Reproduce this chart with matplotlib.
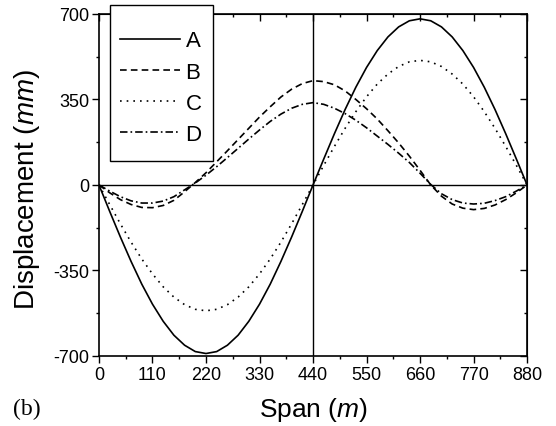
import matplotlib
matplotlib.use("Agg")
import matplotlib.pyplot as plt
from matplotlib.patches import Rectangle
from matplotlib.ticker import MultipleLocator

plt.rcParams['font.family'] = ['Liberation Sans', 'DejaVu Sans']
plt.rcParams['mathtext.fontset'] = 'custom'
plt.rcParams['mathtext.rm'] = 'Liberation Sans'
plt.rcParams['mathtext.it'] = 'Liberation Sans:italic'
plt.rcParams['axes.unicode_minus'] = False

span = [0, 22, 44, 66, 88, 110, 132, 154, 176, 198, 220, 242, 264, 286, 308, 330, 352, 374, 396, 418, 440,
        462, 484, 506, 528, 550, 572, 594, 616, 638, 660, 682, 704, 726, 748, 770, 792, 814, 836, 858, 880]

A = [0, -108, -213, -313, -406, -488, -558, -615, -656, -682, -690, -682, -656, -615, -558, -488, -406, -313, -213, -108, 0,
     106, 210, 309, 400, 481, 550, 606, 647, 672, 680, 672, 647, 606, 550, 481, 400, 309, 210, 106, 0]
B = [0, -32, -60, -80, -92, -93, -84, -63, -28, 10, 50, 95, 140, 186, 232, 278, 320, 360, 392, 415, 427,
     423, 410, 385, 350, 312, 270, 222, 172, 118, 60, 0, -46, -78, -95, -101, -96, -82, -60, -32, 0]
C = [0, -80, -159, -234, -303, -364, -417, -459, -490, -509, -515, -509, -490, -459, -417, -364, -303, -234, -159, -80, 0,
     80, 158, 232, 300, 361, 413, 454, 485, 504, 510, 504, 485, 454, 413, 361, 300, 232, 158, 80, 0]
D = [0, -25, -48, -65, -74, -74, -66, -48, -20, 8, 40, 75, 112, 150, 188, 225, 260, 290, 314, 330, 337,
     330, 314, 292, 265, 234, 200, 166, 130, 92, 48, 2, -36, -60, -74, -78, -75, -64, -48, -25, 0]

labels = ['A', 'B', 'C', 'D']
xticks = [0, 110, 220, 330, 440, 550, 660, 770, 880]
yticks = [-700, -350, 0, 350, 700]

fig = plt.figure(figsize=(5.56, 4.27), dpi=100)
ax = fig.add_axes([0.178, 0.164, 0.770, 0.801])

lw = 1.2
styles = ['-', (0, (4, 2.5)), (0, (1, 3)), (0, (4.5, 1.8, 1, 1.8))]
handles = []
for y, ls, lab in zip([A, B, C, D], styles, labels):
    h, = ax.plot(span, y, color='black', lw=lw, linestyle=ls, label=lab)
    handles.append(h)

ax.axhline(0, color='black', lw=1.0)
ax.axvline(440, color='black', lw=1.0)

ax.set_xlim(0, 880)
ax.set_ylim(-700, 700)
ax.set_xticks(xticks)
ax.set_yticks(yticks)
ax.xaxis.set_minor_locator(MultipleLocator(55))
ax.yaxis.set_minor_locator(MultipleLocator(175))
ax.tick_params(which='major', direction='out', length=5, width=1.0, labelsize=13, pad=2.5)
ax.tick_params(which='minor', direction='out', length=2.5, width=1.0)
ax.tick_params(axis='y', which='major', pad=2)
for s in ax.spines.values():
    s.set_linewidth(1.2)

top = ax.secondary_xaxis('top')
top.set_xticks(xticks)
top.xaxis.set_minor_locator(MultipleLocator(55))
top.tick_params(which='major', direction='in', length=5, width=1.0, labeltop=False)
top.tick_params(which='minor', direction='in', length=2.5, width=1.0)
right = ax.secondary_yaxis('right')
right.set_yticks(yticks)
right.yaxis.set_minor_locator(MultipleLocator(175))
right.tick_params(which='major', direction='in', length=5, width=1.0, labelright=False)
right.tick_params(which='minor', direction='in', length=2.5, width=1.0)

ax.set_xlabel('Span ($m$)', fontsize=19, va='center')
ax.xaxis.set_label_coords(0.5, -0.155)
ax.set_ylabel('Displacement ($mm$)', fontsize=20, va='center')
ax.yaxis.set_label_coords(-0.168, 0.49)

# legend box
x0 = (110 - 99) / 428
x1 = (213 - 99) / 428
y0 = (357 - 162) / 342
y1 = (357 - 6) / 342
ax.add_patch(Rectangle((x0, y0), x1 - x0, y1 - y0, transform=ax.transAxes,
                       facecolor='white', edgecolor='black', lw=1.0, clip_on=False, zorder=5))
leg = ax.legend(handles=handles, loc='upper left', bbox_to_anchor=(x0, y1 - 0.045),
                frameon=False, fontsize=16, handlelength=2.7, handletextpad=0.25,
                labelspacing=0.46, borderpad=0.45, borderaxespad=0)
leg.set_zorder(6)

fig.text(27 / 556, 1 - 409 / 427, '(b)', family='Liberation Serif', fontsize=17, ha='center', va='center')

fig.savefig('out.png', dpi=100)
